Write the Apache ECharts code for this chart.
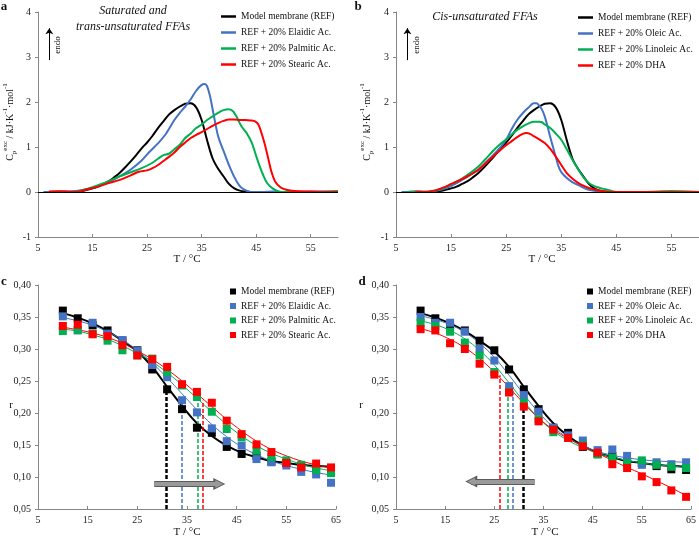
<!DOCTYPE html>
<html><head><meta charset="utf-8">
<script src="https://cdn.jsdelivr.net/npm/echarts@6/dist/echarts.min.js"></script>
<style>html,body{margin:0;padding:0;background:#fff}#c{width:699px;height:537px}</style>
</head><body><div id="c"></div>
<script>
const FONT = '"Liberation Serif", "Times New Roman", serif';
const C_REF = '#000000', C_BLUE = '#4472C4', C_GREEN = '#00B050', C_RED = '#FF0000';

const namesA = ['Model membrane (REF)', 'REF + 20% Elaidic Ac.', 'REF + 20% Palmitic Ac.', 'REF + 20% Stearic Ac.'];
const namesB = ['Model membrane (REF)', 'REF + 20% Oleic Ac.', 'REF + 20% Linoleic Ac.', 'REF + 20% DHA'];

// ---- DSC excess heat capacity (T °C, Cp kJ/K/mol) ----
const dscREF = [[7,0],[9,0.01],[11,0],[13,0.02],[15,0.08],[16,0.12],[17,0.18],[18,0.24],[19,0.33],[20,0.43],[21,0.55],[22,0.68],[23,0.82],[24,0.97],[25,1.1],[26,1.25],[27,1.42],[28,1.57],[29,1.72],[30,1.82],[31,1.9],[32,1.96],[33,1.97],[34,1.88],[35,1.6],[36,1.15],[37,0.75],[38,0.52],[39,0.35],[40,0.18],[41,0.08],[42,0.03],[43,0.01],[44,0],[47,0],[50,0],[55,0],[58,0]];
const dscElaidic = [[6,0],[8,0],[10,0.01],[12,0.02],[14,0.06],[16,0.13],[18,0.22],[20,0.35],[22,0.5],[24,0.7],[25.5,0.9],[27,1.08],[28.5,1.3],[30,1.6],[31,1.76],[32,1.9],[33,2.06],[34,2.25],[35,2.38],[35.6,2.4],[36,2.35],[36.5,2.15],[37,1.85],[37.5,1.53],[38,1.25],[38.5,1.07],[39,0.92],[39.5,0.76],[40,0.6],[41,0.33],[42,0.13],[43,0.04],[44,0],[46,0],[48,0.01],[50,0],[55,0.01],[60,0.01]];
const dscPalmitic = [[7,0],[10,0],[12,0.01],[14,0.07],[16,0.15],[18,0.24],[20,0.35],[22,0.44],[24,0.53],[26,0.65],[27,0.74],[28,0.82],[29,0.85],[30,0.95],[31,1.05],[32,1.2],[33,1.3],[34,1.42],[35,1.5],[36,1.6],[37,1.68],[38,1.76],[39,1.82],[40,1.84],[40.8,1.79],[41.5,1.65],[42.3,1.46],[43.3,1.3],[44.2,1.09],[45,0.8],[45.5,0.62],[46.2,0.4],[47,0.2],[48,0.08],[49,0.02],[50,0],[55,0],[60,0.02]];
const dscStearic = [[7,0.01],[10,0.01],[12,0],[14,0.06],[16,0.12],[18,0.2],[20,0.27],[22,0.37],[23.5,0.45],[25,0.48],[26,0.53],[27,0.6],[28,0.69],[29,0.78],[30,0.88],[31,1.0],[32,1.1],[33,1.2],[34,1.27],[35,1.33],[36,1.4],[37,1.47],[38,1.53],[39,1.58],[40,1.61],[41,1.61],[42,1.6],[43,1.6],[44,1.59],[44.8,1.57],[45.4,1.5],[46,1.3],[46.6,1.05],[47.2,0.75],[47.8,0.45],[48.5,0.23],[49.5,0.1],[50.5,0.05],[52,0.02],[55,0.01],[58,0],[60,0]];
const dscOleic = [[6,0],[8,0],[10,0],[12,0.02],[14,0.08],[15,0.13],[17,0.27],[19,0.42],[20,0.5],[21,0.62],[22.5,0.8],[24,1.0],[25,1.16],[26,1.4],[27,1.6],[28,1.75],[29,1.87],[30,1.97],[30.5,1.97],[31,1.92],[31.5,1.83],[32,1.68],[32.5,1.46],[33,1.22],[33.5,1.0],[34,0.78],[34.5,0.57],[35,0.44],[36,0.31],[37,0.22],[38,0.16],[39,0.1],[40,0.05],[42,0.01],[44,0],[50,0],[55,0],[60,0]];
const dscLinoleic = [[7,0],[9,0],[11,0.01],[13,0.06],[15,0.17],[17,0.3],[19,0.47],[20,0.57],[21,0.7],[22,0.83],[23,0.96],[24,1.07],[25,1.17],[26,1.28],[27,1.38],[28,1.46],[29,1.52],[30,1.56],[31,1.56],[31.5,1.55],[32,1.5],[33,1.42],[34,1.3],[35,1.16],[36,0.95],[37,0.72],[38,0.52],[39,0.33],[40,0.2],[41,0.13],[42,0.09],[43,0.06],[44,0.03],[45,0],[50,0],[55,0.02],[60,0]];
const dscDHA = [[8.5,0],[10,0],[12,0.03],[14,0.12],[15,0.18],[16,0.23],[18,0.35],[20,0.5],[22,0.72],[24,0.94],[26,1.13],[27,1.22],[28,1.29],[28.7,1.31],[29.5,1.28],[30,1.24],[31,1.17],[32,1.09],[33,0.96],[34,0.79],[35,0.6],[36,0.42],[37,0.3],[38,0.21],[39,0.14],[40,0.09],[42,0.03],[44,0],[50,0],[55,0],[60,0]];

// ---- anisotropy r ----
const tempR = [10,13,16,19,22,25,28,31,34,37,40,43,46,49,52,55,58,61,64];
const rREF      = [0.360,0.348,0.337,0.329,0.313,0.298,0.268,0.237,0.206,0.177,0.169,0.147,0.136,0.133,0.124,0.122,0.117,0.112,0.111];
const rElaidic  = [0.351,0.329,0.341,0.324,0.314,0.297,0.275,0.256,0.220,0.201,0.176,0.156,0.149,0.128,0.123,0.118,0.108,0.104,0.091];
const rPalmitic = [0.328,0.330,0.324,0.313,0.298,0.290,0.285,0.264,0.243,0.225,0.202,0.175,0.162,0.141,0.131,0.126,0.119,0.111,0.106];
const rStearic  = [0.336,0.338,0.323,0.320,0.306,0.290,0.284,0.272,0.245,0.233,0.216,0.188,0.167,0.151,0.139,0.122,0.115,0.121,0.115];
const rOleic    = [0.350,0.341,0.341,0.327,0.300,0.282,0.242,0.228,0.202,0.177,0.165,0.157,0.142,0.143,0.133,0.119,0.123,0.120,0.123];
const rLinoleic = [0.341,0.336,0.327,0.310,0.290,0.264,0.233,0.216,0.190,0.170,0.161,0.150,0.135,0.130,0.122,0.126,0.119,0.116,0.114];
const rDHA      = [0.331,0.329,0.309,0.300,0.277,0.260,0.232,0.210,0.187,0.174,0.161,0.148,0.138,0.120,0.114,0.101,0.092,0.079,0.069];

const fitREF      = [0.356,0.349,0.340,0.328,0.313,0.296,0.272,0.241,0.211,0.184,0.164,0.149,0.138,0.131,0.125,0.122,0.119,0.117,0.116];
const fitElaidic  = [0.349,0.344,0.337,0.327,0.314,0.298,0.278,0.255,0.230,0.205,0.182,0.163,0.147,0.135,0.125,0.118,0.112,0.107,0.103];
const fitPalmitic = [0.331,0.328,0.322,0.315,0.305,0.293,0.280,0.263,0.244,0.223,0.202,0.182,0.164,0.149,0.137,0.128,0.120,0.114,0.110];
const fitStearic  = [0.334,0.330,0.325,0.318,0.309,0.297,0.284,0.268,0.250,0.230,0.210,0.190,0.172,0.156,0.143,0.133,0.125,0.119,0.114];
const fitOleic    = [0.352,0.346,0.338,0.326,0.309,0.287,0.259,0.229,0.201,0.178,0.161,0.149,0.140,0.134,0.130,0.127,0.125,0.124,0.123];
const fitLinoleic = [0.344,0.338,0.329,0.316,0.298,0.275,0.247,0.218,0.192,0.172,0.157,0.146,0.137,0.131,0.126,0.122,0.119,0.117,0.115];
const fitDHA      = [0.332,0.325,0.315,0.302,0.285,0.264,0.240,0.215,0.192,0.174,0.160,0.148,0.137,0.126,0.115,0.105,0.094,0.083,0.071];

// transition temperatures (dashed lines) and their top r values
const tmC = [30.8, 33.9, 37.1, 38.1];
const tmCTop = [0.237, 0.218, 0.223, 0.219];
const tmD = [30.8, 28.8, 27.7, 26.0];
const tmDTop = [0.236, 0.241, 0.241, 0.259];
// shift arrows [fromT, toT, r]
const arrowC = [28.4, 41.5, 0.089];
const arrowD = [33.2, 20.3, 0.093];
// endo arrow [T, yFrom, yTo]
const endoArrow = [7.07, 2.93, 3.64];

const axisGray = '#868686';
const labelStyle = {fontFamily: FONT, fontSize: 10, color: '#222'};
const commaFmt = v => v.toFixed(2).replace('.', ',');

function xAx(gi, max, showMax) {
  return {gridIndex: gi, type: 'value', min: 5, max: max, interval: 10,
    axisLine: {onZero: false, lineStyle: {color: axisGray}},
    axisTick: {inside: true, length: 3, lineStyle: {color: axisGray}},
    axisLabel: Object.assign({margin: 6, showMaxLabel: showMax}, labelStyle),
    splitLine: {show: false}};
}
function yAx(gi, min, max, interval, fmt) {
  return {gridIndex: gi, type: 'value', min: min, max: max, interval: interval,
    axisLine: {show: true, onZero: false, lineStyle: {color: axisGray}},
    axisTick: {show: true, length: 3, lineStyle: {color: axisGray}},
    axisLabel: Object.assign({margin: 7, formatter: fmt}, labelStyle),
    splitLine: {show: false}};
}
function dsc(name, data, color, gi) {
  return {type: 'line', name: name, data: data, xAxisIndex: gi, yAxisIndex: gi,
    smooth: 0.3, showSymbol: false, symbol: 'none',
    lineStyle: {color: color, width: 2}, itemStyle: {color: color}, z: 3};
}
function pts(name, vals, color, gi) {
  return {type: 'scatter', name: name, data: tempR.map((t, i) => [t, vals[i]]),
    xAxisIndex: gi, yAxisIndex: gi, symbol: 'rect', symbolSize: 8,
    itemStyle: {color: color, opacity: 1}, z: 5};
}
function fit(vals, color, gi, width, tm, top) {
  return {type: 'line', name: 'fit', data: tempR.map((t, i) => [t, vals[i]]),
    xAxisIndex: gi, yAxisIndex: gi, smooth: 0.4, showSymbol: false, symbol: 'none',
    lineStyle: {color: color, width: width}, itemStyle: {color: color}, z: 4,
    markLine: {silent: true, symbol: 'none', animation: false,
      lineStyle: {color: color, width: width > 1.5 ? 2.5 : 1.5, type: [4, 2]},
      label: {show: false},
      data: [[{coord: [tm, 0.05]}, {coord: [tm, top]}]]}};
}
function annot(gi, markData, lineStyle, symbol, symbolSize) {
  return {type: 'line', name: 'annot', data: [], xAxisIndex: gi, yAxisIndex: gi, z: 6,
    markLine: {silent: true, animation: false, symbol: symbol, symbolSize: symbolSize,
      lineStyle: lineStyle, itemStyle: {color: lineStyle.color}, label: {show: false}, data: markData}};
}
function shiftArrow(gi, a) {
  const d = [[{coord: [a[0], a[2]]}, {coord: [a[1], a[2]]}]];
  return [
    annot(gi, d, {color: '#5a5a5a', width: 6, type: 'solid'}, ['none', 'triangle'], 12),
    annot(gi, d, {color: '#9a9a9a', width: 4, type: 'solid'}, ['none', 'triangle'], 8)
  ];
}

const series = [
  annot(0, [{yAxis: 0}], {color: '#000', width: 1, type: 'solid'}, 'none', 0),
  annot(1, [{yAxis: 0}], {color: '#000', width: 1, type: 'solid'}, 'none', 0),
  annot(0, [[{coord: [endoArrow[0], endoArrow[1]]}, {coord: [endoArrow[0], endoArrow[2]]}]], {color: '#000', width: 1, type: 'solid'}, ['none', 'arrow'], 6),
  annot(1, [[{coord: [endoArrow[0], endoArrow[1]]}, {coord: [endoArrow[0], endoArrow[2]]}]], {color: '#000', width: 1, type: 'solid'}, ['none', 'arrow'], 6),
  dsc(namesA[0], dscREF, C_REF, 0),
  dsc(namesA[1], dscElaidic, C_BLUE, 0),
  dsc(namesA[2], dscPalmitic, C_GREEN, 0),
  dsc(namesA[3], dscStearic, C_RED, 0),
  dsc(namesB[0], dscREF, C_REF, 1),
  dsc(namesB[1], dscOleic, C_BLUE, 1),
  dsc(namesB[2], dscLinoleic, C_GREEN, 1),
  dsc(namesB[3], dscDHA, C_RED, 1),
  fit(fitREF, C_REF, 2, 2, tmC[0], tmCTop[0]),
  fit(fitElaidic, C_BLUE, 2, 1, tmC[1], tmCTop[1]),
  fit(fitPalmitic, C_GREEN, 2, 1, tmC[2], tmCTop[2]),
  fit(fitStearic, C_RED, 2, 1, tmC[3], tmCTop[3]),
  pts(namesA[0], rREF, C_REF, 2),
  pts(namesA[1], rElaidic, C_BLUE, 2),
  pts(namesA[2], rPalmitic, C_GREEN, 2),
  pts(namesA[3], rStearic, C_RED, 2),
  fit(fitREF, C_REF, 3, 2, tmD[0], tmDTop[0]),
  fit(fitOleic, C_BLUE, 3, 1, tmD[1], tmDTop[1]),
  fit(fitLinoleic, C_GREEN, 3, 1, tmD[2], tmDTop[2]),
  fit(fitDHA, C_RED, 3, 1, tmD[3], tmDTop[3]),
  pts(namesB[0], rREF, C_REF, 3),
  pts(namesB[1], rOleic, C_BLUE, 3),
  pts(namesB[2], rLinoleic, C_GREEN, 3),
  pts(namesB[3], rDHA, C_RED, 3),
  ...shiftArrow(2, arrowC),
  ...shiftArrow(3, arrowD)
];

function legend(left, top, names, w, h, gap) {
  return {left: left, top: top, orient: 'vertical', icon: 'rect', itemWidth: w, itemHeight: h,
    itemGap: gap, padding: 0, selectedMode: false, data: names,
    textStyle: {fontFamily: FONT, fontSize: 9.5, color: '#111', lineHeight: 13}};
}

const txt = (x, y, text, size, extra) => Object.assign({type: 'text', x: x, y: y, silent: true,
  style: Object.assign({text: text, fontFamily: FONT, fontSize: size, fill: '#111',
    textAlign: 'center', textVerticalAlign: 'middle'}, extra && extra.style || {})},
  extra && extra.el || {});

const cpRich = {
  n: {fontFamily: FONT, fontSize: 10, lineHeight: 16, verticalAlign: 'middle'},
  sub: {fontFamily: FONT, fontSize: 7, lineHeight: 8, verticalAlign: 'bottom'},
  sup: {fontFamily: FONT, fontSize: 7, lineHeight: 8, verticalAlign: 'top'}
};
const cpText = '{n|C}{sub|p}{sup|exc}{n| / kJ·K}{sup|-1}{n|·mol}{sup|-1}';

const graphic = [
  txt(4, 7, 'a', 13, {style: {fontWeight: 'bold'}}),
  txt(358, 7, 'b', 13, {style: {fontWeight: 'bold'}}),
  txt(4, 282, 'c', 13, {style: {fontWeight: 'bold'}}),
  txt(362, 282, 'd', 13, {style: {fontWeight: 'bold'}}),
  txt(133, 11, 'Saturated and', 12, {style: {fontStyle: 'italic'}}),
  txt(133, 27, 'trans-unsaturated FFAs', 12, {style: {fontStyle: 'italic'}}),
  txt(485, 17, 'Cis-unsaturated FFAs', 12, {style: {fontStyle: 'italic'}}),
  txt(58, 45, 'endo', 9, {el: {rotation: Math.PI / 2}}),
  txt(417, 45, 'endo', 9, {el: {rotation: Math.PI / 2}}),
  {type: 'text', x: 10, y: 122, rotation: Math.PI / 2, silent: true,
   style: {text: cpText, rich: cpRich, fill: '#111', textAlign: 'center', textVerticalAlign: 'middle'}},
  {type: 'text', x: 367, y: 122, rotation: Math.PI / 2, silent: true,
   style: {text: cpText, rich: cpRich, fill: '#111', textAlign: 'center', textVerticalAlign: 'middle'}},
  txt(187, 259, 'T / °C', 11),
  txt(542, 259, 'T / °C', 11),
  txt(187, 532, 'T / °C', 11),
  txt(545, 532, 'T / °C', 11),
  txt(11, 405, 'r', 11),
  txt(361, 405, 'r', 11)
];

const chart = echarts.init(document.getElementById('c'), null, {renderer: 'canvas'});
chart.setOption({
  animation: false,
  backgroundColor: '#fff',
  grid: [
    {left: 38, top: 12, width: 300, height: 225},
    {left: 396, top: 12, width: 303, height: 225},
    {left: 38, top: 285, width: 298, height: 224},
    {left: 396, top: 285, width: 298, height: 224}
  ],
  xAxis: [xAx(0, 60, false), xAx(1, 60, false), xAx(2, 65, true), xAx(3, 65, true)],
  yAxis: [yAx(0, -1, 4, 1), yAx(1, -1, 4, 1), yAx(2, 0.05, 0.40, 0.05, commaFmt), yAx(3, 0.05, 0.40, 0.05, commaFmt)],
  legend: [
    legend(221, 10, namesA, 15, 2.5, 3),
    legend(578, 11, namesB, 15, 2.5, 3),
    legend(230, 285, namesA, 6, 6, 1.5),
    legend(587, 285, namesB, 6, 6, 1.5)
  ],
  series: series,
  graphic: graphic
});
</script></body></html>
